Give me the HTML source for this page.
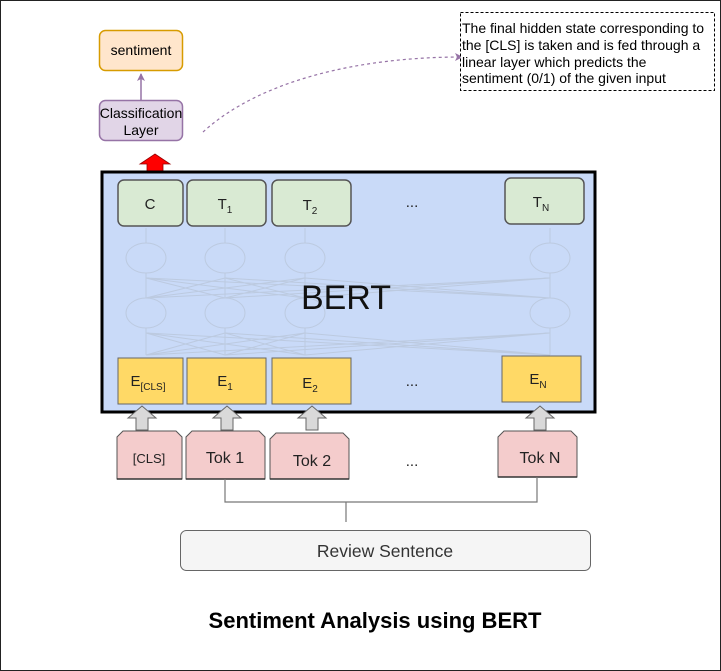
<!DOCTYPE html>
<html><head><meta charset="utf-8"><style>
html,body{margin:0;padding:0;background:#fff}
svg{display:block}
text{font-family:"Liberation Sans",Arial,sans-serif}
</style></head><body>
<svg width="721" height="671" viewBox="0 0 721 671" xmlns="http://www.w3.org/2000/svg">
<rect x="0.5" y="0.5" width="720" height="670" fill="#fff" stroke="#222"/>
<defs>
<marker id="pa" markerWidth="8" markerHeight="8" refX="7" refY="4" orient="auto" markerUnits="userSpaceOnUse"><path d="M0,0 L8,4 L0,8 L2,4 Z" fill="#9673a6"/></marker>
</defs>
<rect x="99.5" y="30.5" width="83" height="40" rx="6" fill="#ffe6cc" stroke="#d79b00" stroke-width="1.5"/>
<text x="141" y="55" font-size="14" text-anchor="middle">sentiment</text>
<line x1="141" y1="100" x2="141" y2="74" stroke="#9673a6" stroke-width="1.5" marker-end="url(#pa)"/>
<rect x="99.5" y="100.5" width="83" height="40" rx="6" fill="#e1d5e7" stroke="#9673a6" stroke-width="1.5"/>
<text x="141" y="118" font-size="14" text-anchor="middle">Classification</text>
<text x="141" y="135" font-size="14" text-anchor="middle">Layer</text>
<path d="M203,132 C260,80 360,57 462,57" fill="none" stroke="#9673a6" stroke-dasharray="3,3" stroke-width="1.2" marker-end="url(#pa)"/>
<rect x="460.5" y="12.5" width="254" height="78" fill="#fff" stroke="#000" stroke-dasharray="3,2"/>
<text font-size="14" fill="#000"><tspan x="462" y="33">The final hidden state corresponding to</tspan><tspan x="462" y="50">the [CLS] is taken and is fed through a</tspan><tspan x="462" y="67">linear layer which predicts the</tspan><tspan x="462" y="83">sentiment (0/1) of the given input</tspan></text>
<path d="M147,172 L147,164 L140,164 L155,154 L170,164 L163,164 L163,172 Z" fill="#f00" stroke="#900" stroke-width="0.8"/>
<rect x="102" y="172" width="493" height="240" fill="#c9daf8" stroke="#000" stroke-width="3"/>
<g stroke="#bccae0" fill="none" stroke-width="1">
<ellipse cx="146" cy="258" rx="20" ry="15"/><ellipse cx="225" cy="258" rx="20" ry="15"/><ellipse cx="305" cy="258" rx="20" ry="15"/><ellipse cx="550" cy="258" rx="20" ry="15"/>
<ellipse cx="146" cy="313" rx="20" ry="15"/><ellipse cx="225" cy="313" rx="20" ry="15"/><ellipse cx="305" cy="313" rx="20" ry="15"/><ellipse cx="550" cy="313" rx="20" ry="15"/>
<path d="M146,228 V243 M225,228 V243 M305,228 V243 M550,228 V243 M146,273 V298 M225,273 V298 M305,273 V298 M550,273 V298 M146,328 V355 M225,328 V355 M305,328 V355 M550,328 V355"/>
<path d="M146,355 L225,333 M146,355 L305,333 M146,355 L550,333 M225,355 L146,333 M225,355 L305,333 M225,355 L550,333 M305,355 L146,333 M305,355 L225,333 M305,355 L550,333 M550,355 L146,333 M550,355 L225,333 M550,355 L305,333"/>
<path d="M146,298 L225,278 M146,298 L305,278 M146,298 L550,278 M225,298 L146,278 M225,298 L305,278 M225,298 L550,278 M305,298 L146,278 M305,298 L225,278 M305,298 L550,278 M550,298 L146,278 M550,298 L225,278 M550,298 L305,278"/>
</g>
<text x="346" y="309" font-size="34" text-anchor="middle" fill="#111">BERT</text>
<g fill="#d9ead3" stroke="#555" stroke-width="1.5">
<rect x="118" y="180" width="65" height="46" rx="6"/>
<rect x="187" y="180" width="79" height="46" rx="6"/>
<rect x="272" y="180" width="79" height="46" rx="6"/>
<rect x="505" y="178" width="79" height="46" rx="6"/>
</g>
<g font-size="15" fill="#222" text-anchor="middle">
<text x="150" y="209">C</text>
<text x="225" y="209">T<tspan font-size="10" dy="4">1</tspan></text>
<text x="310" y="210">T<tspan font-size="10" dy="4">2</tspan></text>
<text x="541" y="207">T<tspan font-size="10" dy="4">N</tspan></text>
<text x="412" y="207">...</text>
</g>
<g fill="#ffd966" stroke="#666" stroke-width="1">
<rect x="118" y="358" width="65" height="46"/>
<rect x="187" y="358" width="79" height="46"/>
<rect x="272" y="358" width="79" height="46"/>
<rect x="502" y="356" width="79" height="46"/>
</g>
<g font-size="15" fill="#222" text-anchor="middle">
<text x="148" y="386">E<tspan font-size="10" dy="4">[CLS]</tspan></text>
<text x="225" y="386">E<tspan font-size="10" dy="4">1</tspan></text>
<text x="310" y="388">E<tspan font-size="10" dy="4">2</tspan></text>
<text x="538" y="384">E<tspan font-size="10" dy="4">N</tspan></text>
<text x="412" y="386">...</text>
</g>
<g fill="#d9d9d9" stroke="#666" stroke-width="1">
<path d="M136,430 V418 H128 L142,406 L156,418 H148 V430 Z"/>
<path d="M221,430 V418 H213 L227,406 L241,418 H233 V430 Z"/>
<path d="M306,430 V418 H298 L312,406 L326,418 H318 V430 Z"/>
<path d="M534,430 V418 H526 L540,406 L554,418 H546 V430 Z"/>
</g>
<g fill="#f4cccc" stroke="#555" stroke-width="1">
<path d="M117,479 V437 L123,431 H176 L182,437 V479 Z"/>
<path d="M186,479 V437 L192,431 H259 L265,437 V479 Z"/>
<path d="M270,479 V439 L276,433 H343 L349,439 V479 Z"/>
<path d="M498,477 V437 L504,431 H571 L577,437 V477 Z"/>
</g>
<g stroke="#333" stroke-width="1.5"><line x1="117" y1="479" x2="182" y2="479"/><line x1="186" y1="479" x2="265" y2="479"/><line x1="270" y1="479" x2="349" y2="479"/><line x1="498" y1="477" x2="577" y2="477"/></g>
<g font-size="16" fill="#222" text-anchor="middle">
<text x="149" y="463" font-size="13">[CLS]</text>
<text x="225" y="463">Tok 1</text>
<text x="312" y="466">Tok 2</text>
<text x="540" y="463">Tok N</text>
<text x="412" y="466" font-size="15">...</text>
</g>
<path d="M225,479 V502 H537 V477 M346,502 V522" fill="none" stroke="#777" stroke-width="1.2"/>
<rect x="180.5" y="530.5" width="410" height="40" rx="6" fill="#f5f5f5" stroke="#666"/>
<text x="385" y="557" font-size="17.5" text-anchor="middle" fill="#333">Review Sentence</text>
<text x="375" y="628" font-size="22" font-weight="bold" text-anchor="middle" fill="#000">Sentiment Analysis using BERT</text>
</svg>
</body></html>
